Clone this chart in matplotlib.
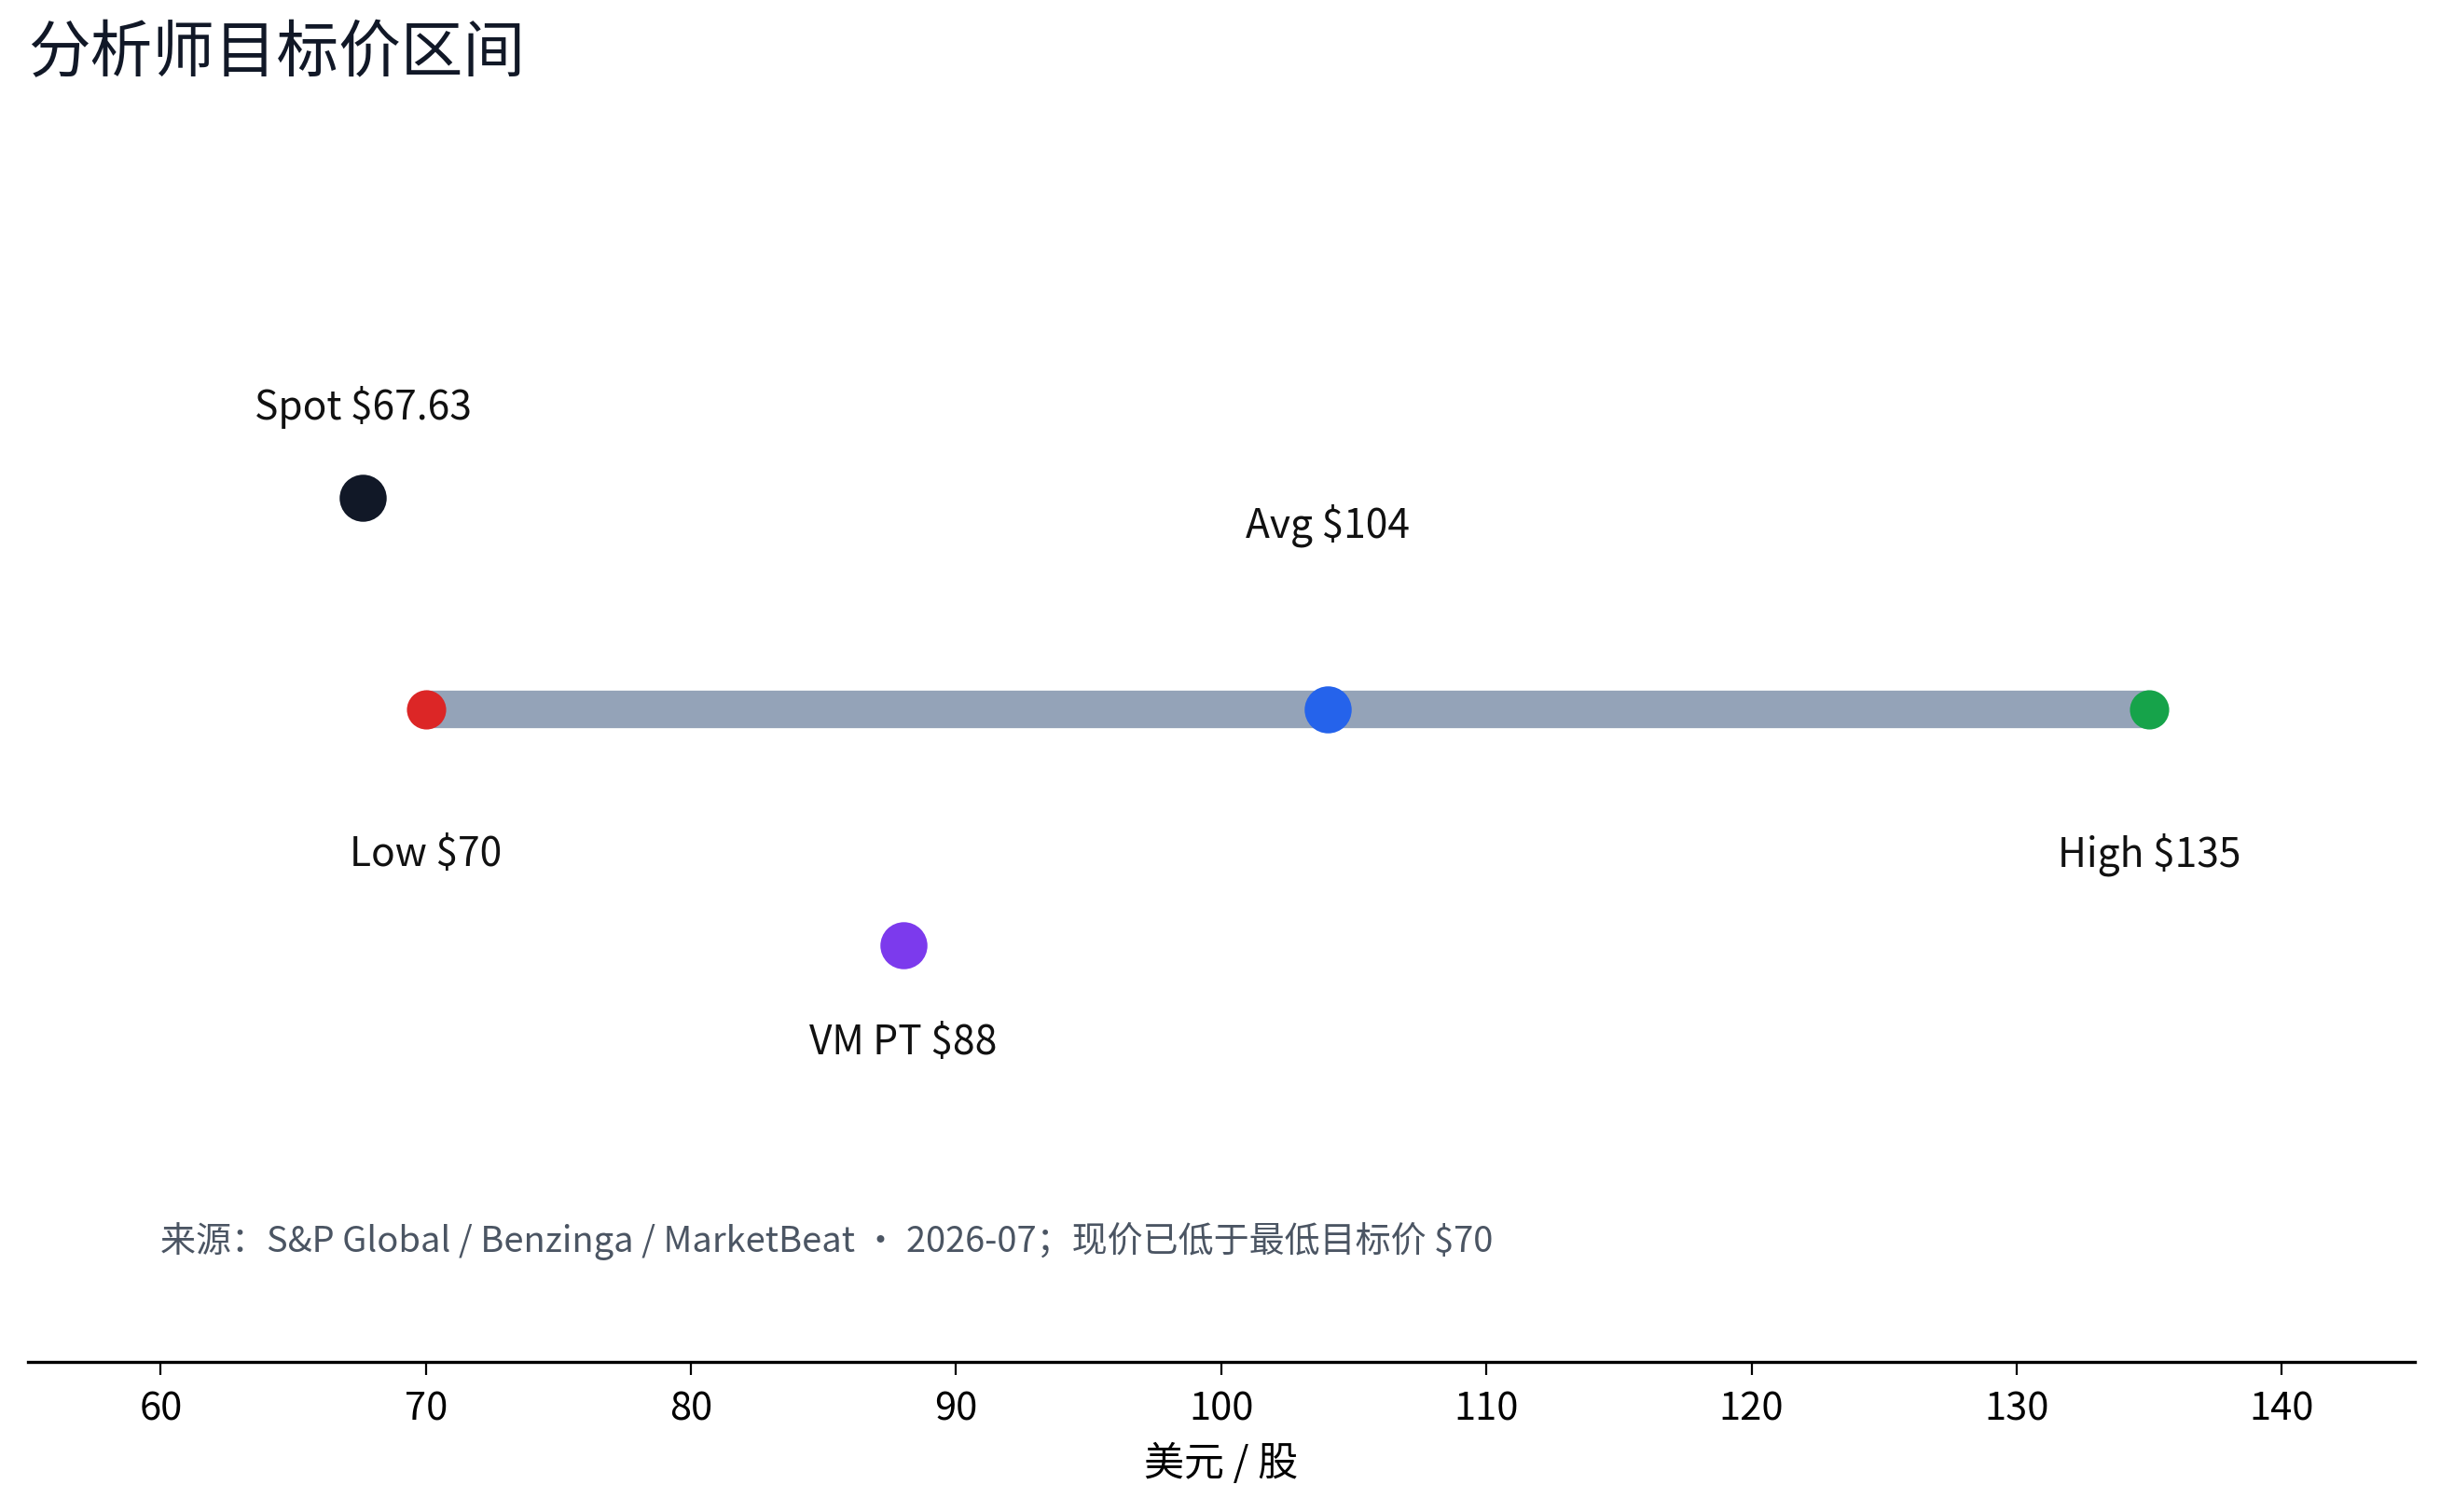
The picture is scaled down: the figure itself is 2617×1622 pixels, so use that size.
import matplotlib
matplotlib.use("Agg")
import matplotlib.pyplot as plt

plt.rcParams['font.family'] = ['Noto Sans CJK SC', 'DejaVu Sans']

# Data
names = ["Spot", "Low", "Avg", "High", "VM PT"]
values = [67.63, 70, 104, 135, 88]
rows = [0.9, 0.0, 0.0, 0.0, -1.0]
labels = ["Spot $67.63", "Low $70", "Avg $104", "High $135", "VM PT $88"]
label_offsets = [0.4, -0.6, 0.8, -0.6, -0.4]
colors = ["#111827", "#dc2626", "#2563eb", "#16a34a", "#7c3aed"]
sizes = [330, 230, 330, 230, 330]
range_low, range_high = 70, 135
xticks = [60, 70, 80, 90, 100, 110, 120, 130, 140]

DPI = 200
fig = plt.figure(figsize=(2617 / DPI, 1622 / DPI), dpi=DPI)
ax = fig.add_axes([0.0115, 0.0995, 0.978, 0.8045])

ax.plot([range_low, range_high], [0, 0], color="#94a3b8", lw=14.5,
        solid_capstyle="butt", zorder=1)
for v, r, c, s, lab, off in zip(values, rows, colors, sizes, labels, label_offsets):
    ax.scatter([v], [r], s=s, color=c, zorder=3, linewidths=0)
    ax.text(v, r + off - 0.015, lab, ha="center", va="center", fontsize=15.3,
            color="#111111")

ax.text(60, -2.26, "来源：S&P Global / Benzinga / MarketBeat · 2026-07；现价已低于最低目标价 $70",
        ha="left", va="center", fontsize=13.7, color="#4b5563")

ax.set_xlim(55, 145)
ax.set_ylim(-2.77, 2.4)
ax.set_xticks(xticks)
ax.set_yticks([])
for sp in ["top", "right", "left"]:
    ax.spines[sp].set_visible(False)
ax.spines["bottom"].set_linewidth(1.2)
ax.tick_params(axis="x", labelsize=15, length=5, width=0.8, pad=6)
ax.set_xlabel("美元 / 股", fontsize=15.5, labelpad=6)

fig.text(0.0115, 0.964, "分析师目标价区间", ha="left", va="center",
         fontsize=24, color="#111827")

fig.savefig("out.png", dpi=DPI)
